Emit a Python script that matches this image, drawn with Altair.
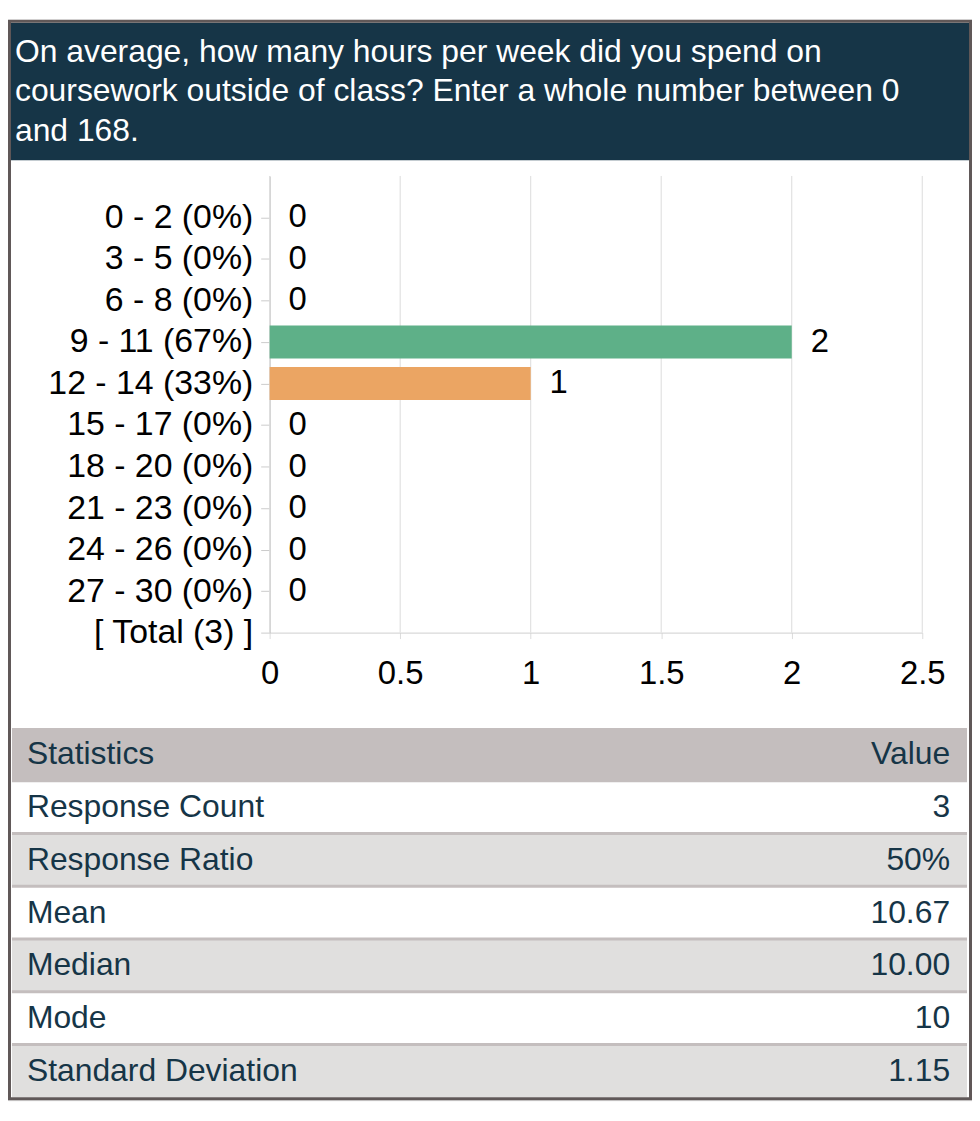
import altair as alt
import pandas as pd

# ---------------- data ----------------
title_lines = [
    "On average, how many hours per week did you spend on",
    "coursework outside of class? Enter a whole number between 0",
    "and 168.",
]
ranges = ["0 - 2", "3 - 5", "6 - 8", "9 - 11", "12 - 14",
          "15 - 17", "18 - 20", "21 - 23", "24 - 26", "27 - 30"]
percents = [0, 0, 0, 67, 33, 0, 0, 0, 0, 0]
counts = [0, 0, 0, 2, 1, 0, 0, 0, 0, 0]
x_ticks = [0, 0.5, 1, 1.5, 2, 2.5]
table_head = ["Statistics", "Value"]
stat_names = ["Response Count", "Response Ratio", "Mean", "Median",
              "Mode", "Standard Deviation"]
stat_values = ["3", "50%", "10.67", "10.00", "10", "1.15"]

# ---------------- styles ----------------
FONT = "Liberation Sans"
W, H = 969, 1086
NAVY = "#163547"
FRAME = "#605858"
GREEN, ORANGE = "#5eb088", "#eba563"
HEAD_BG, ROW_ALT = "#c4bebe", "#e0dfde"
GRID = "#dcdcdc"
PLOT_TOP, PLOT_BOTTOM = 157, 616

labels = [f"{r} ({p}%)" for r, p in zip(ranges, percents)]
total_label = f"[ Total ({sum(counts)}) ]"
y_domain = [" "] + labels + [total_label]

bars_df = pd.DataFrame({"label": labels, "count": counts})
ticks_df = pd.DataFrame({"tick": x_ticks})

# ---------------- header ----------------
hdr_df = pd.DataFrame({"text": ["\n".join(title_lines)]})
header_bg = alt.Chart(hdr_df).mark_rect(color=NAVY).encode(
    x=alt.value(0), x2=alt.value(W), y=alt.value(3), y2=alt.value(141.3)
)
header_text = alt.Chart(hdr_df).mark_text(
    align="left", baseline="alphabetic", lineBreak="\n", lineHeight=39.7,
    fontSize=32, font=FONT, color="white"
).encode(x=alt.value(7), y=alt.value(42), text="text:N")

# ---------------- bar chart ----------------
x_scale = alt.Scale(domain=[0, 2.5], range=[263, 919], nice=False, zero=True)
x_axis = alt.Axis(
    values=x_ticks, format="~g", orient="bottom", offset=PLOT_BOTTOM - H,
    title=None, grid=False, domainColor="#cfcfcf", tickColor=GRID,
    tickSize=6, labelPadding=19, labelFontSize=33, labelFont=FONT,
    labelColor="#000000", labelFlush=False, labelOverlap=False,
)
y_enc = alt.Y(
    "label:N",
    scale=alt.Scale(type="point", domain=y_domain, range=[PLOT_TOP, PLOT_BOTTOM],
                    padding=0),
    axis=alt.Axis(
        values=labels + [total_label], orient="left", offset=-263, title=None,
        grid=False, domainColor="#bdbdbd", tickColor="#cccccc", tickSize=9,
        labelPadding=8, labelFontSize=34, labelFont=FONT, labelColor="#000000",
        labelLimit=500,
    ),
)
grid = alt.Chart(ticks_df).mark_rule(color=GRID, strokeWidth=1).encode(
    x=alt.X("tick:Q", scale=x_scale, axis=x_axis),
    y=alt.value(PLOT_TOP), y2=alt.value(PLOT_BOTTOM)
)
bars = alt.Chart(bars_df).transform_filter("datum.count > 0").mark_bar(size=33).encode(
    x=alt.X("count:Q", scale=x_scale, axis=x_axis), y=y_enc,
    color=alt.Color("label:N", scale=alt.Scale(domain=[labels[3], labels[4]],
                                               range=[GREEN, ORANGE]), legend=None),
)
values = alt.Chart(bars_df).mark_text(
    align="left", baseline="middle", dx=19, fontSize=33, font=FONT, color="#000000"
).encode(x=alt.X("count:Q", axis=x_axis), y=y_enc, text="count:Q")
bar_layer = alt.layer(grid, bars, values)

# ---------------- statistics table ----------------
n_rows = len(stat_names) + 1
kinds = ["head"] + ["odd" if i % 2 == 0 else "even" for i in range(len(stat_names))]
table_df = pd.DataFrame({
    "row": list(range(n_rows)),
    "name": [table_head[0]] + stat_names,
    "val": [table_head[1]] + stat_values,
    "kind": kinds,
    "left": [0] * n_rows,
    "right": [1] * n_rows,
})
ty = alt.Y("row:O", scale=alt.Scale(type="band", domain=list(range(n_rows)),
                                    range=[712, 1083], paddingInner=0, paddingOuter=0),
           axis=None)
tx = alt.X("left:Q", scale=alt.Scale(domain=[0, 1], range=[4, 964], nice=False), axis=None)

row_rects = alt.Chart(table_df).mark_rect().encode(
    y=ty, x=tx, x2="right:Q",
    color=alt.Color("kind:N", scale=alt.Scale(domain=["head", "odd", "even"],
                                              range=[HEAD_BG, "#ffffff", ROW_ALT]),
                    legend=None),
)
seps = alt.Chart(table_df).transform_filter(
    f"datum.row < {n_rows - 1}"
).mark_rule(color=HEAD_BG, strokeWidth=3).encode(
    y=alt.Y("row:O", bandPosition=1, axis=None), x=alt.X("left:Q", axis=None), x2="right:Q"
)
name_text = alt.Chart(table_df).mark_text(
    align="left", baseline="middle", dx=15, fontSize=32, font=FONT, color=NAVY
).encode(y=alt.Y("row:O", bandPosition=0.5, axis=None), x=alt.X("left:Q", axis=None),
         text="name:N")
val_text = alt.Chart(table_df).mark_text(
    align="right", baseline="middle", dx=-17, fontSize=32, font=FONT, color=NAVY
).encode(y=alt.Y("row:O", bandPosition=0.5, axis=None), x=alt.X("right:Q", axis=None),
         text="val:N")
table_layer = alt.layer(row_rects, seps, name_text, val_text)

# ---------------- outer frame (kept inside the view) ----------------
frame = alt.Chart(hdr_df).mark_rect(
    filled=False, stroke=FRAME, strokeWidth=3
).encode(x=alt.value(1.5), x2=alt.value(W - 1.5),
         y=alt.value(1.5), y2=alt.value(H - 1.5))

chart = alt.layer(header_bg, header_text, bar_layer, table_layer, frame).resolve_scale(
    x="independent", y="independent", color="independent"
).properties(
    width=W, height=H,
    padding={"left": 0, "top": 9, "right": 0, "bottom": 0},
).configure_view(
    fill="white", strokeWidth=0
).configure(font=FONT)

chart.save("out.html", embed_options={"renderer": "svg", "actions": False})
